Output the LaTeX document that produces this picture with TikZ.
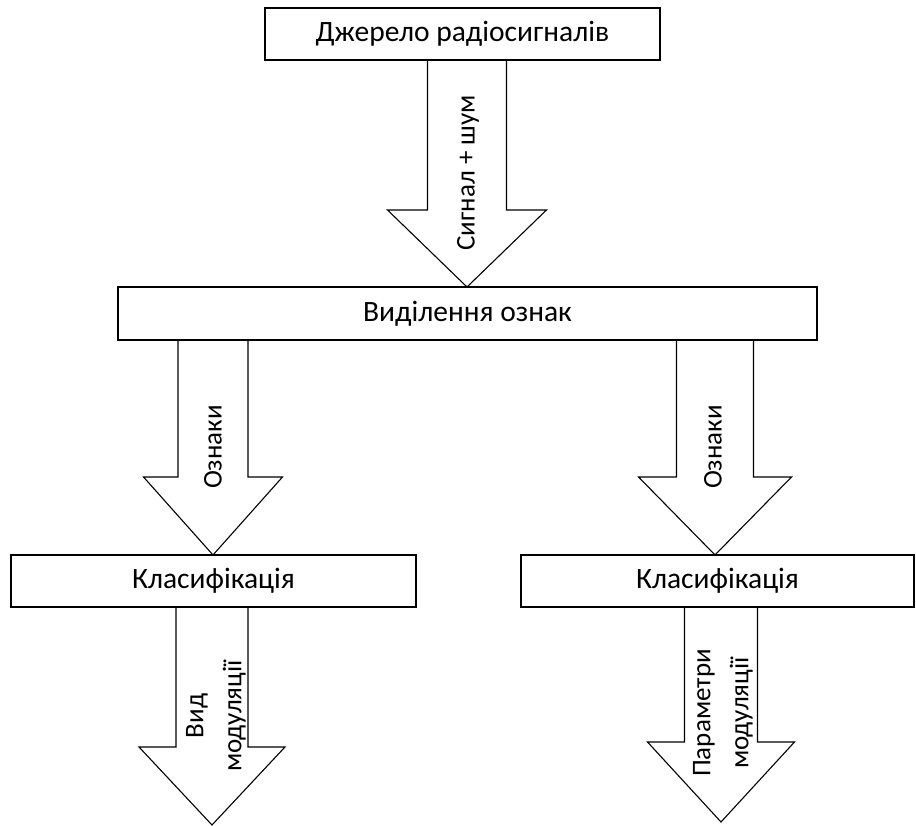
\documentclass[tikz,border=0pt]{standalone}
\usepackage{fontspec}
\setmainfont{Carlito}
\usetikzlibrary{calc}

\tikzset{
    block/.style = {draw=black, line width=1.1pt, fill=white, inner sep=0pt},
    fatarrow/.style = {draw=black, line width=1.1pt, line join=miter},
    label/.style = {rotate=90, align=center, inner sep=0pt,
                    font=\fontsize{27}{38}\selectfont}
}

% block arrow from the bottom of a box down to a tip coordinate
% #1 box, #2 tip, #3 shaft half width, #4 head half width, #5 head length
\newcommand{\fatarrow}[5]{%
  \draw[fatarrow] let \p1 = (#1.south), \p2 = (#2) in
    (\x2-#3,\y1) -- (\x2-#3,\y2+#5) -- (\x2-#4,\y2+#5) -- (#2)
    -- (\x2+#4,\y2+#5) -- (\x2+#3,\y2+#5) -- (\x2+#3,\y1);
}

\begin{document}
\begin{tikzpicture}[
            x = 1pt, y = 1pt,
            font = \fontsize{29.5}{39}\selectfont
        ]
\useasboundingbox (0,0) rectangle (916,826);

% arrows first, boxes drawn on top of them
\coordinate (tip1) at (467,539);
\coordinate (tip2) at (213,271);
\coordinate (tip3) at (715,271);
\coordinate (tip4) at (212,1);
\coordinate (tip5) at (721,4);

\node[block, minimum width=395pt, minimum height=52pt] (source) at (462.5,792) {Джерело радіосигналів};
\node[block, minimum width=699pt, minimum height=53pt] (features) at (467.5,512.5) {Виділення ознак};
\node[block, minimum width=405pt, minimum height=52pt] (classL) at (213.5,245) {Класифікація};
\node[block, minimum width=393pt, minimum height=52pt] (classR) at (717.5,245) {Класифікація};

\fatarrow{source}{tip1}{39.5pt}{79.5pt}{77pt}
\fatarrow{features}{tip2}{35pt}{69.5pt}{78pt}
\fatarrow{features}{tip3}{38.5pt}{76.5pt}{78pt}
\fatarrow{classL}{tip4}{36pt}{73pt}{78pt}
\fatarrow{classR}{tip5}{36.5pt}{73.5pt}{80pt}

\node[label] (noise) at (468,653) {Сигнал + шум};
\node[label] (featL) at (213,379) {Ознаки};
\node[label] (featR) at (713,379) {Ознаки};
\node[label] (modtype) at (216,110) {Вид\\модуляції};
\node[label] (modpar) at (723,113) {Параметри\\модуляції};

\end{tikzpicture}
\end{document}
